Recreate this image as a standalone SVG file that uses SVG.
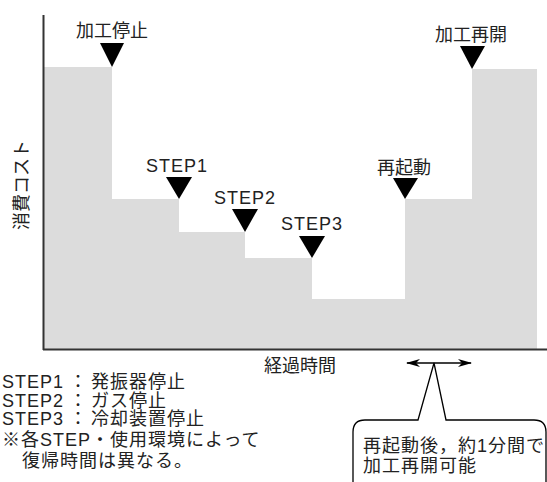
<svg xmlns="http://www.w3.org/2000/svg" width="547" height="482" viewBox="0 0 547 482">
<style>
text{font-family:'Liberation Sans','Noto Sans CJK JP',sans-serif;font-size:18px;fill:#222}
.c{text-anchor:middle}
.lat{letter-spacing:1px}
.sp{letter-spacing:1px}
.tri{fill:#000}
.axis{stroke:#333;stroke-width:2;fill:none}
.conn{stroke:#000;stroke-width:1.3;fill:none}
</style>
<defs>
<marker id="ah" markerUnits="userSpaceOnUse" markerWidth="14" markerHeight="8" refX="13" refY="4" orient="auto-start-reverse">
<path d="M0,0 L14,4 L0,8 L4,4 Z" fill="#000"/>
</marker>
</defs>
<rect width="547" height="482" fill="#fff"/>
<g id="area">
<polygon points="44,67 112,67 112,199 179,199 179,232 245,232 245,258 312,258 312,299 405,299 405,199 472,199 472,69 537,69 537,349 44,349" fill="#dcdcdc"/>
</g>
<g id="axes">
<line class="axis" x1="43.5" y1="15" x2="43.5" y2="350"/>
<line class="axis" x1="43" y1="349.5" x2="547" y2="349.5"/>
<text transform="translate(22,185) rotate(-90)" class="c" dominant-baseline="central">消費コスト</text>
<text x="300" y="372" class="c">経過時間</text>
</g>
<g id="stop">
<text x="112" y="37" class="c">加工停止</text>
<polygon class="tri" points="100,43 124,43 112,67"/>
</g>
<g id="step1">
<text x="177" y="171.5" class="c lat">STEP1</text>
<polygon class="tri" points="166,177 192,177 179,199"/>
</g>
<g id="step2">
<text x="245" y="203.5" class="c lat">STEP2</text>
<polygon class="tri" points="232,209 258,209 245,232"/>
</g>
<g id="step3">
<text x="312" y="229.5" class="c lat">STEP3</text>
<polygon class="tri" points="299,236 325,236 312,258"/>
</g>
<g id="restart">
<text x="404" y="174" class="c">再起動</text>
<polygon class="tri" points="393,178 418,178 405,199"/>
</g>
<g id="resume">
<text x="471" y="40.5" class="c">加工再開</text>
<polygon class="tri" points="460,46 485,46 472,69"/>
</g>
<g id="connectors">
<line class="conn" x1="407" y1="363" x2="471" y2="363" marker-start="url(#ah)" marker-end="url(#ah)"/>
</g>
<g id="callout">
<path class="conn" style="fill:#fff" d="M353,492 L353,432 Q353,420 365,420 L418,420 L434,363 L446,420 L534,420 Q546,420 546,432 L546,492"/>
<text x="363" y="452" class="sp">再起動後，約1分間で</text>
<text x="363" y="472" class="sp">加工再開可能</text>
</g>
<g id="legend">
<text x="2" y="388" class="sp">STEP1<tspan dx="5">：</tspan><tspan dx="3">発振器停止</tspan></text>
<text x="2" y="406.5" class="sp">STEP2<tspan dx="5">：</tspan><tspan dx="3">ガス停止</tspan></text>
<text x="2" y="425" class="sp">STEP3<tspan dx="5">：</tspan><tspan dx="3">冷却装置停止</tspan></text>
<text x="2" y="446" class="sp">※各STEP・使用環境によって</text>
<text x="22" y="467" class="sp">復帰時間は異なる。</text>
</g>
</svg>
